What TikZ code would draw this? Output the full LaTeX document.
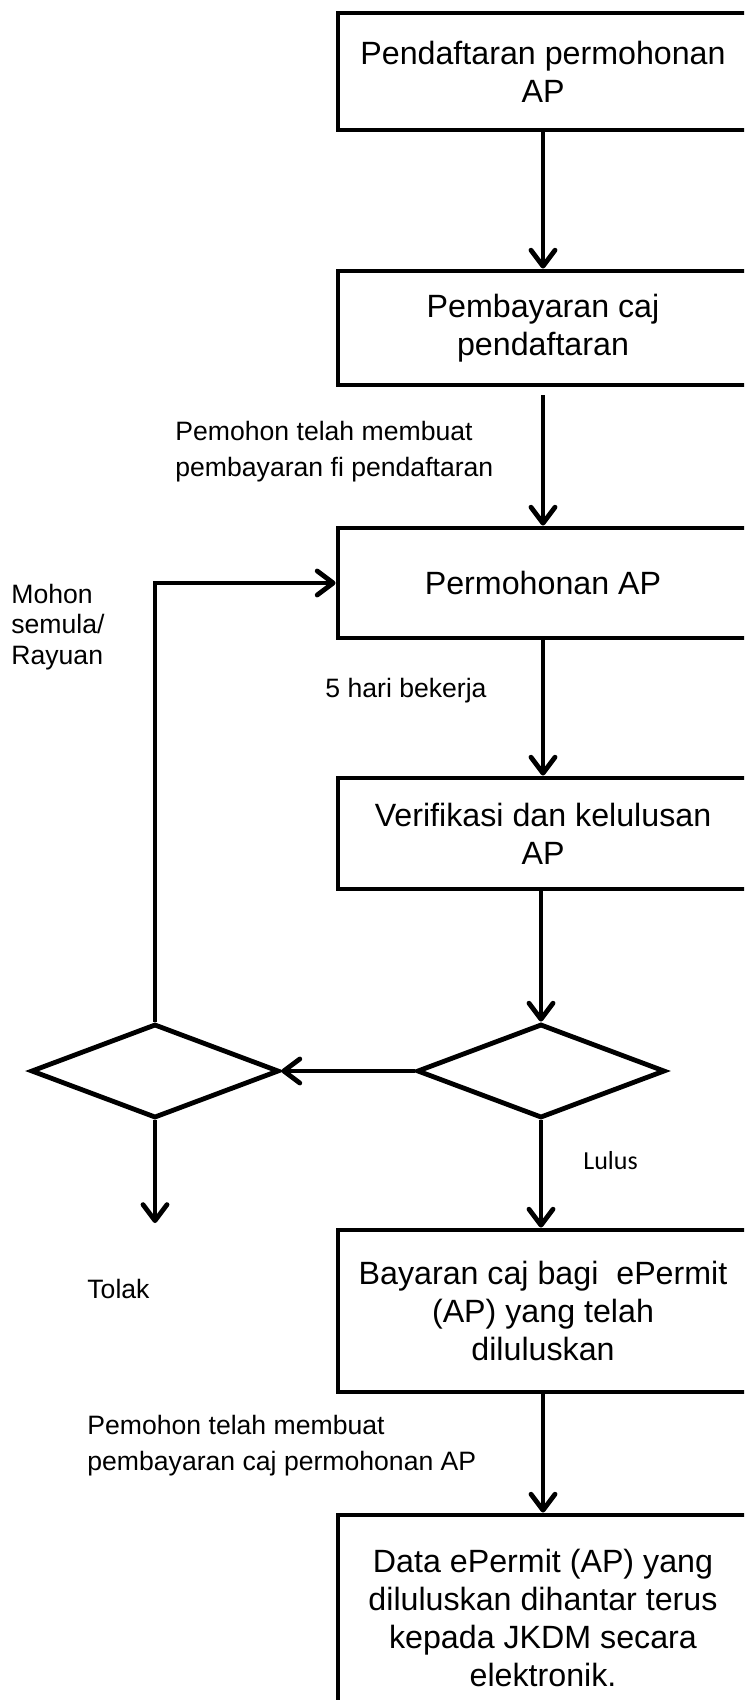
\documentclass[tikz,border=0pt]{standalone}
\usepackage{fontspec}
\setmainfont{Liberation Sans}
\newfontfamily\calibrifont{Carlito}
\usetikzlibrary{shapes.geometric, arrows.meta}

\begin{document}
\begin{tikzpicture}[x=0.5pt, y=-0.5pt]
	\tikzstyle{stepbox}=[draw=black, line width=2.4pt, minimum width=205pt, align=center, inner sep=0pt, font=\fontsize{16.1}{19}\selectfont]
	\tikzstyle{decision}=[draw=black, line width=2.4pt, diamond, minimum width=124pt, minimum height=47pt, inner sep=0pt]
	\tikzstyle{note}=[anchor=west, align=left, inner sep=0pt, font=\fontsize{13.3}{18}\selectfont]
	\tikzstyle{flow}=[line width=2.4pt, -{Straight Barb[length=8pt, width=12pt, line join=round, line cap=round]}]

	\useasboundingbox (0,0) rectangle (744,1700);
	\clip (0,0) rectangle (744,1700);

	\node (b1) at (543,71.5) [stepbox, minimum height=58.5pt] {Pendaftaran permohonan\\AP};
	\node (b2) at (543,328) [stepbox, minimum height=57pt] {Pembayaran caj\\pendaftaran};
	\node (b3) at (543,583) [stepbox, minimum height=55pt] {Permohonan AP};
	\node (b4) at (543,833.5) [stepbox, minimum height=55.5pt] {Verifikasi dan kelulusan\\AP};
	\node (b5) at (543,1311) [stepbox, minimum height=81pt] {Bayaran caj bagi \ ePermit\\(AP) yang telah\\diluluskan};
	\node (b6) at (543,1617.5) [stepbox, minimum height=102.5pt] {Data ePermit (AP) yang\\diluluskan dihantar terus\\kepada JKDM secara\\elektronik.};

	\node (dr) at (541,1071) [decision] {};
	\node (dl) at (155,1071) [decision] {};
	\coordinate (rej) at (155,1223);

	\draw [flow] (b1) -- (b2);
	\draw [flow, shorten <=4pt] (b2) -- (b3);
	\draw [flow] (b3) -- (b4);
	\draw [flow] (b4.south -| dr) -- (dr.north);
	\draw [flow] (dr.west) -- (dl.east);
	\draw [flow] (dl.north) |- (b3.west);
	\draw [flow] (dl.south) -- (rej);
	\draw [flow] (dr.south) -- (dr.south |- b5.north);
	\draw [flow] (b5) -- (b6);

	%% labels beside the arrows
	\node (n1) at (175,452) [note] {Pemohon telah membuat\\pembayaran fi pendaftaran};
	\node (n2) at (11,627) [note, font=\fontsize{13.3}{15.3}\selectfont] {Mohon\\semula/\\Rayuan};
	\node (n3) at (325,691) [note] {5 hari bekerja};
	\node (n4) at (583,1161) [note, font=\calibrifont\fontsize{13}{15}\selectfont] {Lulus};
	\node (n5) at (87,1289) [note] {Tolak};
	\node (n6) at (87,1446) [note] {Pemohon telah membuat\\pembayaran caj permohonan AP};
\end{tikzpicture}
\end{document}
